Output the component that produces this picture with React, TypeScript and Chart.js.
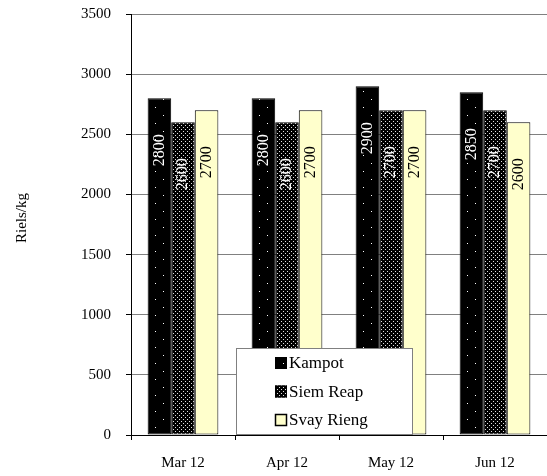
import React, { useEffect, useRef } from "react";
import { Chart, registerables } from "chart.js";

Chart.register(...registerables);

const categories = ["Mar 12", "Apr 12", "May 12", "Jun 12"];
const seriesNames = ["Kampot", "Siem Reap", "Svay Rieng"];
const kampot = [2800, 2800, 2900, 2850];
const siemReap = [2600, 2600, 2700, 2700];
const svayRieng = [2700, 2700, 2700, 2600];
const yTicksMax = 3500;
const yStep = 500;
const yTitle = "Riels/kg";

const FONT = "'Liberation Serif', 'Times New Roman', serif";

function makePattern(size: number, dots: [number, number][], dotColor: string) {
  const c = document.createElement("canvas");
  c.width = size;
  c.height = size;
  const g = c.getContext("2d")!;
  g.fillStyle = "#000000";
  g.fillRect(0, 0, size, size);
  g.fillStyle = dotColor;
  dots.forEach(([x, y]) => g.fillRect(x, y, 1, 1));
  const ctx = document.createElement("canvas").getContext("2d")!;
  return ctx.createPattern(c, "repeat") as CanvasPattern;
}

export default function App() {
  const ref = useRef<HTMLCanvasElement | null>(null);

  useEffect(() => {
    if (!ref.current) return;
    const kampotPat = makePattern(16, [[3, 3], [11, 11]], "#ffffff");
    const siemPat = makePattern(4, [[1, 1], [3, 3]], "#e0e0e0");
    const fills: (string | CanvasPattern)[] = [kampotPat, siemPat, "#FFFFCC"];
    const labelColors = ["#ffffff", "#ffffff", "#000000"];

    const labelPlugin = {
      id: "valueLabels",
      afterDatasetsDraw(chart: any) {
        const ctx = chart.ctx;
        chart.data.datasets.forEach((ds: any, di: number) => {
          const meta = chart.getDatasetMeta(di);
          meta.data.forEach((el: any, i: number) => {
            ctx.save();
            ctx.translate(el.x, el.y + 52);
            ctx.rotate(-Math.PI / 2);
            ctx.font = `16px ${FONT}`;
            ctx.fillStyle = labelColors[di];
            ctx.textAlign = "center";
            ctx.textBaseline = "middle";
            ctx.fillText(String(ds.data[i]), 0, 0);
            ctx.restore();
          });
        });
      },
    };

    const titlePlugin = {
      id: "yTitle",
      afterDraw(chart: any) {
        const ctx = chart.ctx;
        ctx.save();
        ctx.translate(22, 218);
        ctx.rotate(-Math.PI / 2);
        ctx.font = `15px ${FONT}`;
        ctx.fillStyle = "#000000";
        ctx.textAlign = "center";
        ctx.textBaseline = "middle";
        ctx.fillText(yTitle, 0, 0);
        ctx.restore();
      },
    };

    const legendPlugin = {
      id: "boxLegend",
      afterDraw(chart: any) {
        const ctx = chart.ctx;
        const x0 = 236, y0 = 348, w = 176, h = 86;
        ctx.save();
        ctx.fillStyle = "#ffffff";
        ctx.fillRect(x0, y0, w, h);
        ctx.strokeStyle = "#808080";
        ctx.lineWidth = 1;
        ctx.strokeRect(x0 + 0.5, y0 + 0.5, w, h);
        chart.data.datasets.forEach((ds: any, di: number) => {
          const cy = y0 + 15 + di * 28.5;
          ctx.fillStyle = ds.backgroundColor;
          ctx.fillRect(275, cy - 6, 12, 12);
          ctx.strokeStyle = "#000000";
          ctx.lineWidth = di === 2 ? 1.5 : 1;
          ctx.strokeRect(275.5, cy - 5.5, 11, 11);
          ctx.fillStyle = "#000000";
          ctx.font = `17px ${FONT}`;
          ctx.textAlign = "left";
          ctx.textBaseline = "middle";
          ctx.fillText(ds.label, 289, cy + 1);
        });
        ctx.restore();
      },
    };

    const chart = new Chart(ref.current, {
      type: "bar",
      data: {
        labels: categories,
        datasets: [kampot, siemReap, svayRieng].map((d, i) => ({
          label: seriesNames[i],
          data: d,
          backgroundColor: fills[i] as any,
          borderColor: "#000000",
          borderWidth: 1,
          borderSkipped: false,
          categoryPercentage: 0.68,
          barPercentage: 1.0,
        })),
      },
      options: {
        responsive: false,
        animation: false,
        devicePixelRatio: 1,
        layout: { padding: { top: 14, left: 0, right: 0, bottom: 0 } },
        plugins: {
          legend: { display: false },
          tooltip: { enabled: false },
        },
        scales: {
          x: {
            grid: {
              offset: true,
              drawOnChartArea: false,
              drawTicks: true,
              tickLength: 5,
              tickColor: "#000000",
            },
            border: { display: true, color: "#000000", width: 1 },
            ticks: {
              color: "#000000",
              font: { family: FONT, size: 15 },
              padding: 14,
              maxRotation: 0,
            },
            afterFit(scale: any) {
              scale.height = 41;
              scale.paddingLeft = 0;
              scale.paddingRight = 0;
            },
          },
          y: {
            min: 0,
            max: yTicksMax,
            ticks: {
              stepSize: yStep,
              color: "#000000",
              font: { family: FONT, size: 15 },
              padding: 15,
              callback: (v: any) => String(v),
            },
            grid: {
              color: "#808080",
              tickColor: "#000000",
              tickLength: 5,
              lineWidth: 1,
            },
            border: { display: true, color: "#000000", width: 1 },
            afterFit(scale: any) {
              scale.width = 131;
              scale.paddingTop = 0;
              scale.paddingBottom = 0;
            },
          },
        },
      },
      plugins: [labelPlugin, titlePlugin, legendPlugin],
    });
    return () => chart.destroy();
  }, []);

  return (
    <div style={{ position: "absolute", left: 0, top: 0, width: 547, height: 476 }}>
      <canvas ref={ref} width={547} height={476} style={{ display: "block" }} />
    </div>
  );
}
